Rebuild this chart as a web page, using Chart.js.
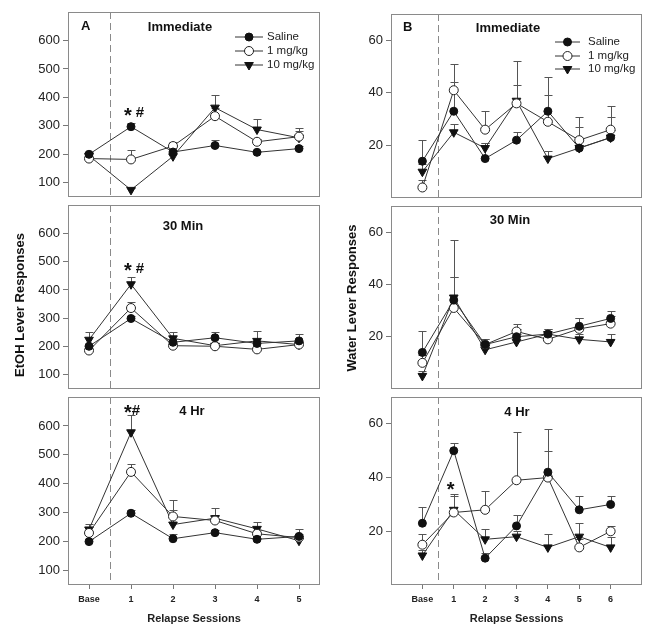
<!DOCTYPE html>
<html>
<head>
<meta charset="utf-8">
<script src="https://cdn.jsdelivr.net/npm/chart.js@4.4.0/dist/chart.umd.min.js"></script>
<style>
    body { margin: 0; background: #fff; }
    #fig { position: relative; width: 651px; height: 637px; overflow: hidden; background: #fff; }
    #fig canvas { position: absolute; }
</style>
</head>
<body>
<div id="fig"></div>
<script>
// ==================== DATA ====================
const sessionsA = ['Base', '1', '2', '3', '4', '5'];
const sessionsB = ['Base', '1', '2', '3', '4', '5', '6'];
const yTicksA = [100, 200, 300, 400, 500, 600];
const yTicksB = [20, 40, 60];
const seriesNames = ['Saline', '1 mg/kg', '10 mg/kg'];

// A: EtOH lever responses (mean, upper SEM)
const aImmSaline = [200, 297, 208, 231, 207, 220];
const aImmSalineErr = [9, 12, 8, 18, 6, 8];
const aImm1 = [185, 182, 229, 334, 244, 262];
const aImm1Err = [5, 33, 15, 30, 10, 20];
const aImm10 = [195, 75, 193, 364, 287, 258];
const aImm10Err = [10, 5, 10, 45, 37, 33];

const a30Saline = [201, 299, 215, 231, 211, 220];
const a30SalineErr = [5, 8, 10, 20, 8, 25];
const a30_1 = [186, 336, 203, 201, 190, 207];
const a30_1Err = [5, 20, 8, 5, 5, 8];
const a30_10 = [224, 420, 229, 203, 220, 207];
const a30_10Err = [28, 27, 23, 8, 35, 12];

const a4hSaline = [200, 298, 210, 231, 208, 218];
const a4hSalineErr = [8, 11, 16, 10, 5, 8];
const a4h_1 = [230, 441, 287, 273, 227, 214];
const a4h_1Err = [8, 26, 22, 20, 12, 30];
const a4h_10 = [242, 578, 259, 281, 244, 203];
const a4h_10Err = [18, 59, 85, 34, 24, 10];

// B: water lever responses
const bImmSaline = [14, 33, 15, 22, 33, 19, 23];
const bImmSalineErr = [8, 11, 6, 3, 13, 8, 8];
const bImm1 = [4, 41, 26, 36, 29, 22, 26];
const bImm1Err = [3, 10, 7, 7, 10, 9, 9];
const bImm10 = [10, 25, 19, 37, 15, 19, 23];
const bImm10Err = [3, 3, 2, 15, 3, 3, 3];

const b30Saline = [14, 34, 17, 20, 21, 24, 27];
const b30SalineErr = [8, 9, 2, 3, 2, 3, 3];
const b30_1 = [10, 31, 17, 22, 19, 23, 25];
const b30_1Err = [3, 12, 2, 3, 2, 4, 3];
const b30_10 = [5, 35, 15, 18, 21, 19, 18];
const b30_10Err = [2, 22, 2, 3, 2, 2, 3];

const b4hSaline = [23, 50, 10, 22, 42, 28, 30];
const b4hSalineErr = [6, 3, 2, 4, 16, 5, 3];
const b4h_1 = [15, 27, 28, 39, 40, 14, 20];
const b4h_1Err = [4, 6, 7, 18, 10, 3, 2];
const b4h_10 = [11, 28, 17, 18, 14, 18, 14];
const b4h_10Err = [2, 6, 4, 2, 5, 5, 4];

// ==================== STYLES ====================
const FONT = 'Arial, "Liberation Sans", sans-serif';
const markerStyles = [
    { pointStyle: 'circle', pointRadius: 4, pointRotation: 0, pointBackgroundColor: '#111', pointBorderColor: '#111' },
    { pointStyle: 'circle', pointRadius: 4.5, pointRotation: 0, pointBackgroundColor: '#fff', pointBorderColor: '#222' },
    { pointStyle: 'triangle', pointRadius: 5, pointRotation: 180, pointBackgroundColor: '#111', pointBorderColor: '#111' }
];

const colA = { left: 0, w: 330, yAxisW: 68, padRight: 10, xMin: -0.5, xMax: 5.5, yMin: 50, yMax: 700, yTicks: yTicksA, labels: sessionsA, rows: [[8, 201], [201, 393], [393, 585]] };
const colB = { left: 325, w: 326, yAxisW: 66, padRight: 9, xMin: -1, xMax: 7, yMin: 0, yMax: 70, yTicks: yTicksB, labels: sessionsB, rows: [[10, 202], [202, 393], [393, 585]] };

// ==================== PLUGIN: borders, SEM bars, texts ====================
function drawMarks(ctx, text, x, y) {
    // '*' and '#' centred on y
    ctx.textBaseline = 'alphabetic';
    ctx.textAlign = 'left';
    ctx.fillStyle = '#111';
    let cx = x;
    for (const ch of text) {
        if (ch === '*') { ctx.font = 'bold 20px ' + FONT; ctx.fillText('*', cx, y + 10); cx += ctx.measureText('*').width; }
        else if (ch === '#') { ctx.font = 'bold 15px ' + FONT; ctx.fillText('#', cx, y + 5.5); cx += ctx.measureText('#').width; }
        else { cx += 4; }
    }
}

const panelDecor = {
    id: 'panelDecor',
    beforeDatasetsDraw(chart) {
        const { ctx, chartArea: a, scales: { x, y } } = chart;
        ctx.save();
        // dashed line between baseline and relapse sessions
        const dx = Math.round(x.getPixelForValue(0.5)) + 0.5;
        ctx.strokeStyle = '#8a8a8a';
        ctx.lineWidth = 1;
        ctx.setLineDash([7, 4]);
        ctx.beginPath(); ctx.moveTo(dx, a.top); ctx.lineTo(dx, a.bottom); ctx.stroke();
        ctx.setLineDash([]);
        // SEM, upward only
        ctx.strokeStyle = '#555';
        chart.data.datasets.forEach(ds => {
            ds.data.forEach((p, i) => {
                const e = ds.err[i];
                if (!e) return;
                const px = Math.round(x.getPixelForValue(p.x)) + 0.5;
                const y0 = y.getPixelForValue(p.y);
                const y1 = Math.round(y.getPixelForValue(p.y + e)) + 0.5;
                ctx.beginPath();
                ctx.moveTo(px, y0); ctx.lineTo(px, y1);
                ctx.moveTo(px - 4, y1); ctx.lineTo(px + 4, y1);
                ctx.stroke();
            });
        });
        ctx.restore();
    },
    afterDraw(chart, args, o) {
        const { ctx, chartArea: a, scales: { x, y } } = chart;
        ctx.save();
        ctx.strokeStyle = '#8a8a8a';
        ctx.lineWidth = 1;
        ctx.strokeRect(Math.round(a.left) + 0.5, Math.round(a.top) + 0.5, Math.round(a.width) - 1, Math.round(a.height) - 1);

        ctx.fillStyle = '#111';
        ctx.textBaseline = 'middle';
        if (o.letter) {
            ctx.font = 'bold 13px ' + FONT;
            ctx.textAlign = 'left';
            ctx.fillText(o.letter, a.left + o.letterPos[0], a.top + o.letterPos[1]);
        }
        ctx.font = 'bold 13px ' + FONT;
        ctx.textAlign = 'center';
        ctx.fillText(o.title, a.left + o.titlePos[0], a.top + o.titlePos[1]);

        if (o.legend) {
            const [x0, x1, tx, ys] = o.legend;
            chart.data.datasets.forEach((ds, k) => {
                const ly = a.top + ys[k];
                ctx.strokeStyle = '#333';
                ctx.beginPath(); ctx.moveTo(a.left + x0, ly); ctx.lineTo(a.left + x1, ly); ctx.stroke();
                ctx.fillStyle = ds.pointBackgroundColor;
                ctx.strokeStyle = ds.pointBorderColor;
                ctx.lineWidth = 1;
                Chart.helpers.drawPoint(ctx, { pointStyle: ds.pointStyle, radius: ds.pointRadius, rotation: ds.pointRotation, borderWidth: 1 }, a.left + (x0 + x1) / 2, ly);
                ctx.fillStyle = '#222';
                ctx.font = '11.5px ' + FONT;
                ctx.textAlign = 'left';
                ctx.fillText(ds.label, a.left + tx, ly);
            });
        }
        if (o.marks) {
            const [text, sx, sy] = o.marks;
            drawMarks(ctx, text, x.getPixelForValue(sx) - 7, y.getPixelForValue(sy));
        }
        if (o.yTitle) {
            ctx.save();
            ctx.translate(o.yTitle[1], o.yTitle[2]);
            ctx.rotate(-Math.PI / 2);
            ctx.font = 'bold 13px ' + FONT;
            ctx.fillStyle = '#111';
            ctx.textAlign = 'center';
            ctx.textBaseline = 'middle';
            ctx.fillText(o.yTitle[0], 0, 0);
            ctx.restore();
        }
        ctx.restore();
    }
};

// ==================== PANELS ====================
const fig = document.getElementById('fig');

function makePanel(col, row, series, decor) {
    const [top, bottom] = col.rows[row];
    const isBottom = row === 2;
    const cTop = top - 2;
    const h = isBottom ? 637 - cTop : bottom - top + 4;
    const cv = document.createElement('canvas');
    cv.width = col.w; cv.height = h;
    cv.style.left = col.left + 'px'; cv.style.top = cTop + 'px';
    cv.style.width = col.w + 'px'; cv.style.height = h + 'px';
    fig.appendChild(cv);
    if (decor.yTitle) decor.yTitle = [decor.yTitle[0], decor.yTitle[1] - col.left, decor.yTitle[2] - cTop];

    return new Chart(cv, {
        type: 'line',
        data: {
            datasets: series.map((s, k) => ({
                label: seriesNames[k],
                data: s[0].map((v, i) => ({ x: i, y: v })),
                err: s[1],
                borderColor: '#333',
                borderWidth: 1,
                tension: 0,
                pointBorderWidth: 1,
                ...markerStyles[k]
            }))
        },
        options: {
            responsive: false,
            animation: false,
            events: [],
            layout: { padding: { top: 2, bottom: isBottom ? 0 : 2, left: 0, right: col.padRight } },
            plugins: { legend: { display: false }, tooltip: { enabled: false }, panelDecor: decor },
            scales: {
                x: {
                    type: 'linear', min: col.xMin, max: col.xMax, display: isBottom,
                    afterBuildTicks: s => { s.ticks = col.labels.map((l, i) => ({ value: i })); },
                    afterFit: s => { if (isBottom) { s.height = 52; s.paddingLeft = 0; s.paddingRight = 0; } },
                    grid: { display: true, drawOnChartArea: false, drawTicks: true, tickLength: 4, color: '#777' },
                    border: { display: false },
                    ticks: { color: '#222', font: { size: 9, weight: 'bold', family: FONT }, padding: 5, maxRotation: 0, autoSkip: false, callback: v => col.labels[v] },
                    title: { display: true, text: 'Relapse Sessions', color: '#222', font: { size: 11, weight: 'bold', family: FONT }, padding: { top: 0, bottom: 11 } }
                },
                y: {
                    min: col.yMin, max: col.yMax,
                    afterBuildTicks: s => { s.ticks = col.yTicks.map(v => ({ value: v })); },
                    afterFit: s => { s.width = col.yAxisW; s.paddingTop = 0; s.paddingBottom = 0; },
                    grid: { display: true, drawOnChartArea: false, drawTicks: true, tickLength: 5, color: '#777' },
                    border: { display: false },
                    ticks: { color: '#222', font: { size: 13, family: FONT }, padding: 3 }
                }
            }
        },
        plugins: [panelDecor]
    });
}

const legendA = [167, 195, 199, [25, 39, 53]];
const legendB = [164, 189, 197, [28, 42, 55]];

makePanel(colA, 0, [[aImmSaline, aImmSalineErr], [aImm1, aImm1Err], [aImm10, aImm10Err]],
    { letter: 'A', letterPos: [13, 14], title: 'Immediate', titlePos: [112, 15], legend: legendA, marks: ['* #', 1, 350] });
makePanel(colA, 1, [[a30Saline, a30SalineErr], [a30_1, a30_1Err], [a30_10, a30_10Err]],
    { title: '30 Min', titlePos: [115, 21], marks: ['* #', 1, 480], yTitle: ['EtOH Lever Responses', 20, 305] });
makePanel(colA, 2, [[a4hSaline, a4hSalineErr], [a4h_1, a4h_1Err], [a4h_10, a4h_10Err]],
    { title: '4 Hr', titlePos: [124, 14], marks: ['*#', 1, 658] });

makePanel(colB, 0, [[bImmSaline, bImmSalineErr], [bImm1, bImm1Err], [bImm10, bImm10Err]],
    { letter: 'B', letterPos: [12, 13], title: 'Immediate', titlePos: [117, 14], legend: legendB });
makePanel(colB, 1, [[b30Saline, b30SalineErr], [b30_1, b30_1Err], [b30_10, b30_10Err]],
    { title: '30 Min', titlePos: [119, 14], yTitle: ['Water Lever Responses', 352, 298] });
makePanel(colB, 2, [[b4hSaline, b4hSalineErr], [b4h_1, b4h_1Err], [b4h_10, b4h_10Err]],
    { title: '4 Hr', titlePos: [126, 15], marks: ['*', 1, 37] });
</script>
</body>
</html>
